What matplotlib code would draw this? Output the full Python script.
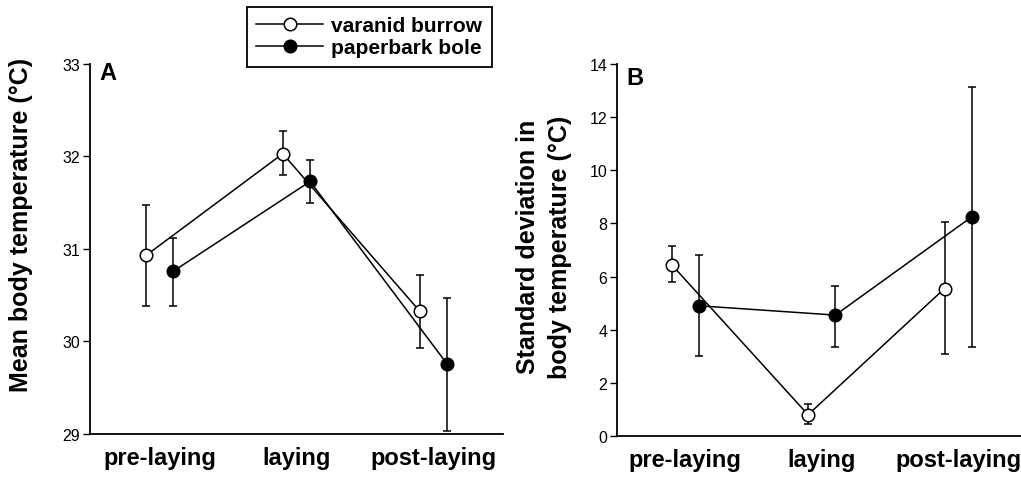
import matplotlib
matplotlib.use('Agg')
import matplotlib.pyplot as plt
import numpy as np

plt.rcParams['font.family'] = ['Liberation Sans', 'DejaVu Sans']

stages = ['pre-laying', 'laying', 'post-laying']

# panel A: mean body temperature
burrow_mean = [30.93, 32.03, 30.33]
burrow_lo = [30.38, 31.80, 29.93]
burrow_hi = [31.47, 32.27, 30.72]
bole_mean = [30.76, 31.73, 29.76]
bole_lo = [30.38, 31.50, 29.03]
bole_hi = [31.12, 31.96, 30.47]

# panel B: standard deviation of body temperature
burrow_sd = [6.45, 0.80, 5.55]
burrow_sd_lo = [5.80, 0.45, 3.10]
burrow_sd_hi = [7.15, 1.20, 8.05]
bole_sd = [4.90, 4.55, 8.25]
bole_sd_lo = [3.00, 3.35, 3.35]
bole_sd_hi = [6.80, 5.65, 13.15]

x = np.arange(len(stages))
off = 0.1

fig = plt.figure(figsize=(10.21, 4.85), dpi=100)
axA = fig.add_axes([0.0881, 0.1031, 0.4045, 0.763])
axB = fig.add_axes([0.6043, 0.099, 0.3957, 0.767])


def draw(ax, m1, lo1, hi1, m2, lo2, hi2):
    m1, lo1, hi1 = np.array(m1), np.array(lo1), np.array(hi1)
    m2, lo2, hi2 = np.array(m2), np.array(lo2), np.array(hi2)
    ax.errorbar(x - off, m1, yerr=[m1 - lo1, hi1 - m1], fmt='none',
                ecolor='black', elinewidth=1.1, capsize=3, capthick=1.1, zorder=2)
    ax.errorbar(x + off, m2, yerr=[m2 - lo2, hi2 - m2], fmt='none',
                ecolor='black', elinewidth=1.1, capsize=3, capthick=1.1, zorder=2)
    l1, = ax.plot(x - off, m1, color='black', lw=1.1, marker='o', ms=9,
                  mfc='white', mec='black', mew=1.1, label='varanid burrow', zorder=3)
    l2, = ax.plot(x + off, m2, color='black', lw=1.1, marker='o', ms=9,
                  mfc='black', mec='black', mew=1.1, label='paperbark bole', zorder=3)
    ax.spines['top'].set_visible(False)
    ax.spines['right'].set_visible(False)
    ax.spines['left'].set_linewidth(1.3)
    ax.spines['bottom'].set_linewidth(1.3)
    ax.set_xticks(x)
    ax.set_xticklabels(stages, fontsize=17, fontweight='bold')
    ax.tick_params(axis='x', length=0, pad=9)
    ax.tick_params(axis='y', direction='out', length=5, width=1, labelsize=11.5, pad=2)
    return l1, l2


h1, h2 = draw(axA, burrow_mean, burrow_lo, burrow_hi, bole_mean, bole_lo, bole_hi)
axA.set_xlim(-0.51, 2.51)
axA.set_ylim(29, 33)
axA.set_yticks([29, 30, 31, 32, 33])
axA.set_ylabel('Mean body temperature (°C)', fontsize=18, fontweight='bold')
axA.yaxis.set_label_coords(-0.138, 0.568)
axA.text(0.024, 1.008, 'A', transform=axA.transAxes, fontsize=17,
         fontweight='bold', va='top', ha='left')

draw(axB, burrow_sd, burrow_sd_lo, burrow_sd_hi, bole_sd, bole_sd_lo, bole_sd_hi)
axB.set_xlim(-0.5, 2.46)
axB.set_ylim(0, 14)
axB.set_yticks(range(0, 15, 2))
axB.set_ylabel('Standard deviation in\nbody temperature (°C)', fontsize=18,
               fontweight='bold', linespacing=1.45)
axB.yaxis.set_label_coords(-0.111, 0.51)
axB.text(0.022, 0.995, 'B', transform=axB.transAxes, fontsize=17,
         fontweight='bold', va='top', ha='left')

leg = fig.legend(handles=[h1, h2], loc='upper left',
                 bbox_to_anchor=(247 / 1021, 1 - 8 / 485), borderaxespad=0,
                 fancybox=False, edgecolor='black', framealpha=1,
                 prop={'size': 15, 'weight': 'bold'}, handlelength=3.2,
                 labelspacing=0.15, handletextpad=0.4, borderpad=0.45)
leg.get_frame().set_linewidth(1.3)

fig.savefig('out.png', dpi=100)
